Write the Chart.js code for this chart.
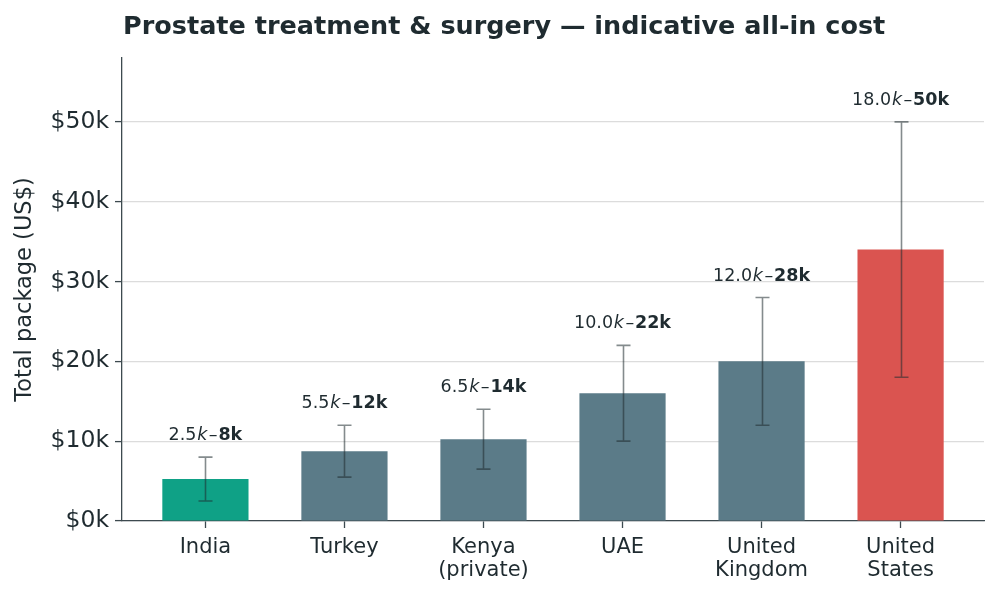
<!DOCTYPE html>
<html><head><meta charset="utf-8">
<script src="https://cdn.jsdelivr.net/npm/chart.js@4"></script>
<style>html,body{margin:0;padding:0;background:#fff}#wrap{width:998px;height:594px;position:relative}</style>
</head><body><div id="wrap"><canvas id="c"></canvas></div>
<script>
const categories = [["India"],["Turkey"],["Kenya","(private)"],["UAE"],["United","Kingdom"],["United","States"]];
const midValues = [5.25, 8.75, 10.25, 16, 20, 34];
const lowValues = [2.5, 5.5, 6.5, 10, 12, 18];
const highValues = [8, 12, 14, 22, 28, 50];
const barColors = ["#0fa186", "#5b7b88", "#5b7b88", "#5b7b88", "#5b7b88", "#da5450"];
const yTicks = [0, 10, 20, 30, 40, 50];
const titleText = "Prostate treatment & surgery — indicative all-in cost";
const yTitle = "Total package (US$)";

const DARK = "#1f2b30";
const FONT = "'DejaVu Sans', sans-serif";

const overlay = {
  id: 'overlay',
  afterDatasetsDraw(chart) {
    const ctx = chart.ctx, xs = chart.scales.x, ys = chart.scales.y;
    ctx.save();
    ctx.strokeStyle = "rgba(31,43,48,0.55)";
    ctx.lineWidth = 1.6;
    for (let i = 0; i < midValues.length; i++) {
      const x = Math.round(xs.getPixelForValue(i)) + 0.5;
      const yl = ys.getPixelForValue(lowValues[i]);
      const yh = ys.getPixelForValue(highValues[i]);
      ctx.beginPath();
      ctx.moveTo(x, yl); ctx.lineTo(x, yh);
      ctx.moveTo(x - 7, yl); ctx.lineTo(x + 7, yl);
      ctx.moveTo(x - 7, yh); ctx.lineTo(x + 7, yh);
      ctx.stroke();
    }
    ctx.fillStyle = DARK;
    ctx.textBaseline = 'middle';
    const fs = 17.5;
    for (let i = 0; i < midValues.length; i++) {
      const x = xs.getPixelForValue(i);
      const y = ys.getPixelForValue(highValues[i]) - 21.5;
      const segs = [
        {t: lowValues[i].toFixed(1), f: fs + "px " + FONT, g: 0.8},
        {t: "k", f: "italic " + fs + "px " + FONT, g: 1.5},
        {t: "–", f: fs + "px " + FONT, g: 0.8},
        {t: highValues[i] + "k", f: "bold " + fs + "px " + FONT, g: 0}
      ];
      let total = 0;
      segs.forEach(s => { ctx.font = s.f; s.w = ctx.measureText(s.t).width; total += s.w + s.g; });
      let cx = x - total / 2;
      ctx.textAlign = 'left';
      segs.forEach(s => { ctx.font = s.f; ctx.fillText(s.t, cx, y); cx += s.w + s.g; });
    }
    ctx.font = "bold 25.5px " + FONT;
    ctx.textAlign = 'left';
    ctx.fillText(titleText, 123, 27);
    ctx.restore();
  }
};

new Chart(document.getElementById('c'), {
  type: 'bar',
  data: {
    datasets: [{
      data: midValues.map((v, i) => ({x: i, y: v})),
      backgroundColor: barColors,
      borderWidth: 0,
      barPercentage: 0.62,
      categoryPercentage: 1.0
    }]
  },
  options: {
    responsive: true, maintainAspectRatio: false, devicePixelRatio: 1, animation: false,
    layout: {padding: {top: 58, right: 14, left: 0, bottom: 0}},
    plugins: {legend: {display: false}, tooltip: {enabled: false}, title: {display: false}},
    scales: {
      x: {
        type: 'linear', min: -0.6, max: 5.6, offset: false,
        afterBuildTicks: s => { s.ticks = categories.map((c, i) => ({value: i})); },
        afterFit: s => { s.height = 73; },
        ticks: {
          autoSkip: false, maxRotation: 0, color: DARK, padding: 8,
          font: {family: FONT, size: 21, lineHeight: 1.1},
          callback: (v) => categories[v] || ''
        },
        grid: {offset: false, drawOnChartArea: false, drawTicks: true, tickLength: 7, tickColor: "#3d4a4f", tickWidth: 1.3},
        border: {color: "#3d4a4f", width: 1.3}
      },
      y: {
        min: 0, max: 58,
        afterBuildTicks: s => { s.ticks = yTicks.map(v => ({value: v})); },
        afterFit: s => { s.width = 122; },
        ticks: {color: DARK, padding: 6, font: {family: FONT, size: 23.5}, callback: v => '$' + v + 'k'},
        grid: {color: "#dcdcdc", lineWidth: 1.2, tickLength: 7, tickColor: "#3d4a4f", tickWidth: 1.3},
        border: {color: "#3d4a4f", width: 1.3},
        title: {display: true, text: yTitle, color: DARK, font: {family: FONT, size: 22.5}, padding: {top: 12, bottom: 0}}
      }
    }
  },
  plugins: [overlay]
});
</script></body></html>
